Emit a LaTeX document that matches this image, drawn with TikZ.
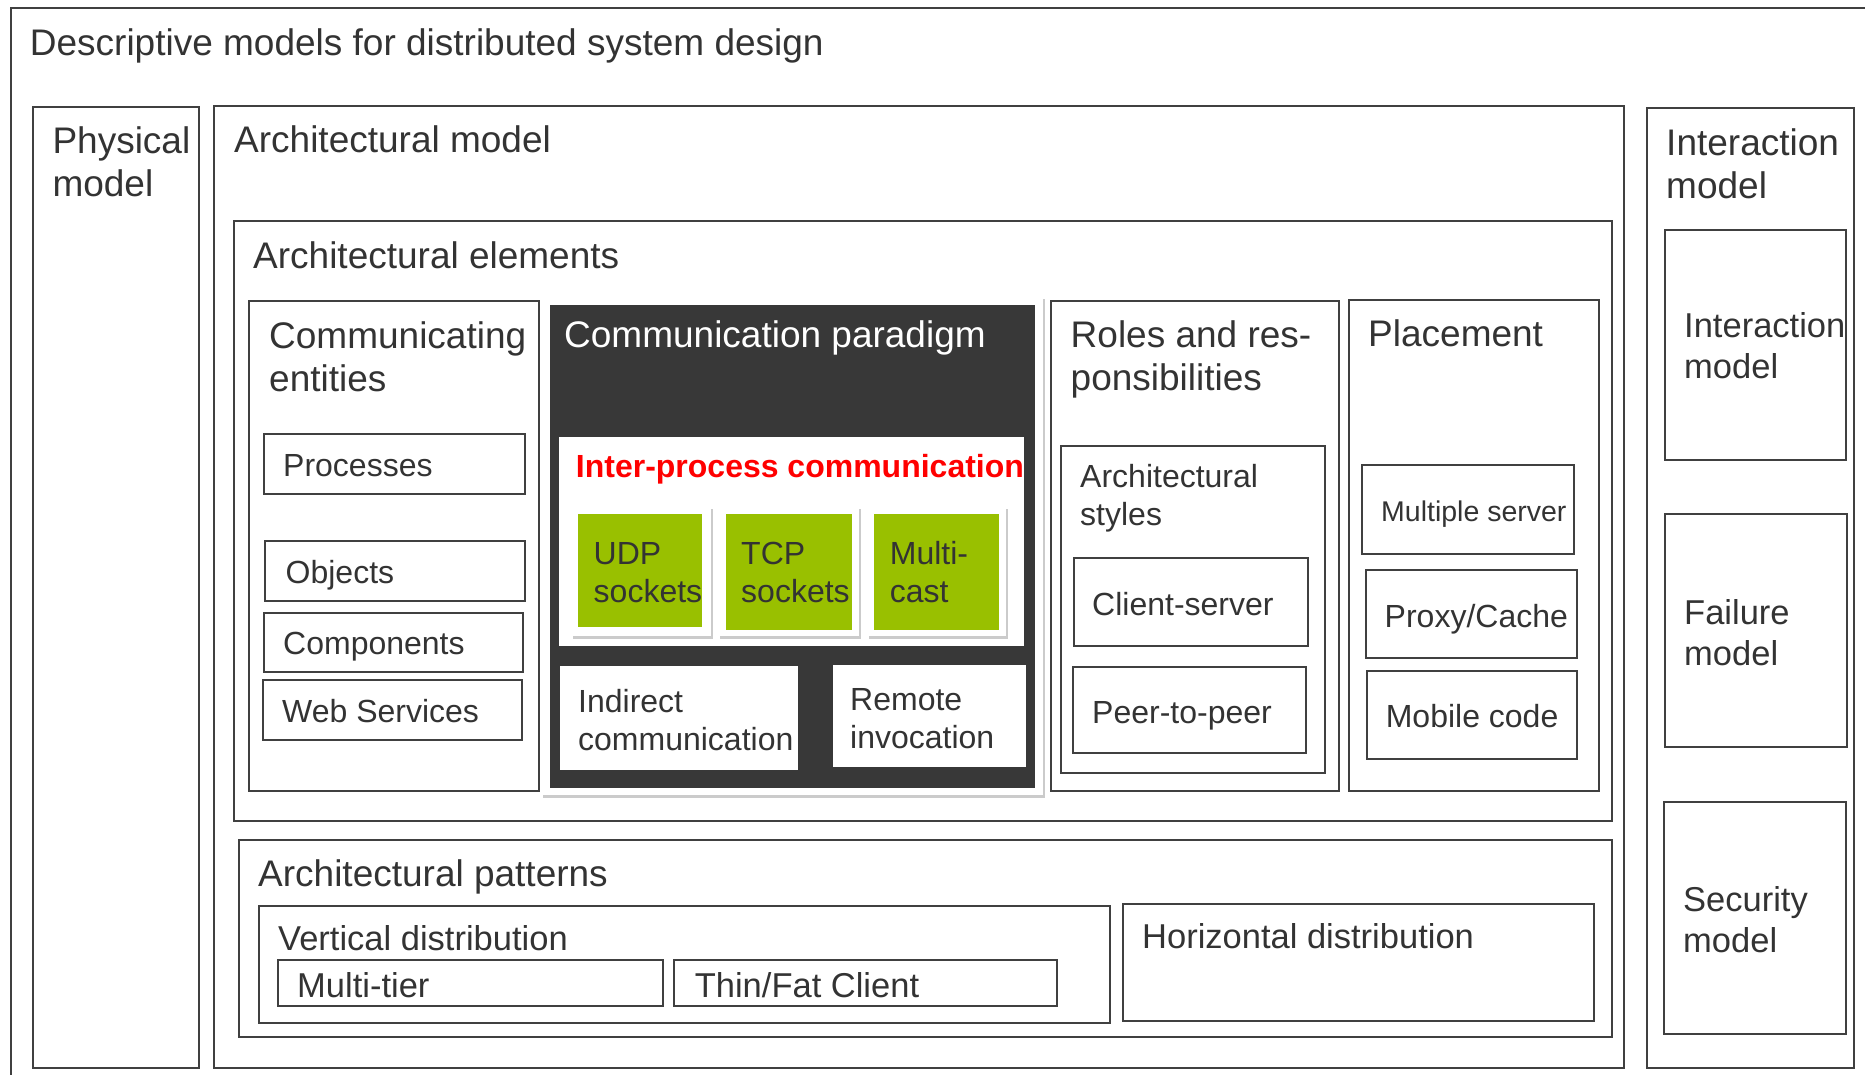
\documentclass[tikz,border=0pt]{standalone}
\usepackage{fontspec}
\setmainfont{Liberation Sans}
\usetikzlibrary{shadows}
\definecolor{linegray}{RGB}{64,64,64}
\definecolor{textgray}{RGB}{51,51,51}
\definecolor{darkbg}{RGB}{56,56,56}
\definecolor{leaf}{RGB}{153,192,0}
\tikzstyle{box}=[draw=linegray,line width=2pt,anchor=north west,inner sep=0pt,outer sep=0pt]
\tikzstyle{card}=[fill=white,anchor=north west,inner sep=0pt,drop shadow={shadow xshift=2pt,shadow yshift=-3pt,fill=black!45,opacity=0.45}]
\tikzstyle{plain}=[fill=white,anchor=north west,inner sep=0pt]
\tikzstyle{green box}=[fill=leaf,anchor=north west,inner sep=0pt]
\tikzstyle{lbl}=[anchor=base west,inner sep=0pt,align=left,text=textgray]
\tikzstyle{head}=[lbl,font=\fontsize{37}{43}\selectfont]
\tikzstyle{item}=[lbl,font=\fontsize{32}{38}\selectfont]
\tikzstyle{side}=[lbl,font=\fontsize{34.5}{40.5}\selectfont]

\begin{document}
\begin{tikzpicture}[x=1pt,y=-1pt]
    \useasboundingbox (0,0) rectangle (1865,1075);
    \clip (0,0) rectangle (1865,1075);
    \node[box,minimum width=1900pt,minimum height=1100pt] (outer) at (10.7,8.3) {};

    % First we draw the frames
    \foreach \pos/\w/\h/\name in {{(33.3,107)/165.3/961/phys}, {(214,106)/1409.5/962/archmodel},
        {(234,221)/1377.6/599.7/archelem}, {(248.6,301)/290.2/490/entities},
        {(264,434)/260.5/59.6/procs}, {(265,541)/259.5/59.6/objs}, {(264,612.5)/259/59.5/comps},
        {(263,680)/259/60/websvc}, {(1051.4,301)/287.6/490/roles}, {(1061,446)/264/327/styles},
        {(1074,558)/234/88/client}, {(1073,667)/233/86/peer}, {(1349,300)/249.6/491/placement},
        {(1362,465)/211.6/89/multiserver}, {(1365.5,570)/211.5/88/proxy}, {(1366.6,671)/210.4/88/mobile},
        {(239,840)/1372.6/197/patterns}, {(259,906)/850.7/117/vertical}, {(278,960)/384.5/46/multitier},
        {(674,960)/383/46/thinfat}, {(1123,904)/471/116.5/horizontal}, {(1647,108)/207/960/interaction},
        {(1665,229.6)/181/230.4/intinner}, {(1665,514)/182/233/failure}, {(1664,801.7)/182/232/security}}
        \node[box,minimum width=\w pt,minimum height=\h pt] (\name) at \pos {};

    % Communication paradigm block
    \node[card,minimum width=502pt,minimum height=498.5pt] (paraframe) at (541,296) {};
    \node[fill=darkbg,anchor=north west,inner sep=0pt,minimum width=485.5pt,minimum height=483pt] (paradigm) at (549.5,304.5) {};
    \node[plain,minimum width=465pt,minimum height=209.5pt] (ipc) at (559,436.5) {};
    \node[plain,minimum width=238pt,minimum height=103.5pt] (indirect) at (560,666) {};
    \node[plain,minimum width=193.4pt,minimum height=102pt] (remote) at (832.6,665) {};
    \foreach \pos/\w/\name in {{(571,505.5)/140/udpcard}, {(718,505.5)/141/tcpcard}, {(867,505.5)/139/mcastcard}}
        \node[card,minimum width=\w pt,minimum height=130.5pt] (\name) at \pos {};
    \foreach \pos/\w/\h/\name in {{(578,514)/123.7/113/udp}, {(725.5,514)/126/116/tcp}, {(874,514)/125/116/mcast}}
        \node[green box,minimum width=\w pt,minimum height=\h pt] (\name) at \pos {};

    % Then the texts (base = last line)
    \foreach \pos/\name/\txt in {{(29.7,56)/titleT/Descriptive models for distributed system design},
        {(52.3,197)/physT/{Physical\\model}}, {(234,153)/archmodelT/Architectural model},
        {(253,269)/archelemT/Architectural elements}, {(269,391)/entitiesT/{Communicating\\entities}},
        {(1070.5,390)/rolesT/{Roles and res-\\ponsibilities}}, {(1368,346)/placementT/Placement},
        {(258,886)/patternsT/Architectural patterns}, {(1666,199)/interactionT/{Interaction\\model}}}
        \node[head] (\name) at \pos {\txt};
    \node[head,text=white] (paradigmT) at (564,347) {Communication paradigm};

    \foreach \pos/\name/\txt in {{(283,476.5)/procsT/Processes}, {(285.5,583.5)/objsT/Objects},
        {(283,654.5)/compsT/Components}, {(282,722.5)/websvcT/Web Services},
        {(593.5,602.5)/udpT/{UDP\\sockets}}, {(741,602.5)/tcpT/{TCP\\sockets}}, {(889.7,602.5)/mcastT/{Multi-\\cast}},
        {(578,750)/indirectT/{Indirect\\communication}}, {(850,748.5)/remoteT/{Remote\\invocation}},
        {(1080,525.5)/stylesT/{Architectural\\styles}}, {(1092,615.5)/clientT/Client-server},
        {(1092,723.5)/peerT/Peer-to-peer}, {(1384.5,627.5)/proxyT/{Proxy/Cache}}, {(1385.6,727.5)/mobileT/Mobile code}}
        \node[item] (\name) at \pos {\txt};
    \node[item,text=red,font=\fontsize{32}{38}\selectfont\bfseries] (ipcT) at (575.7,477.5) {Inter-process communication};
    \node[lbl,font=\fontsize{28.5}{34}\selectfont] (multiserverT) at (1381,521.5) {Multiple server};

    \foreach \pos/\name/\txt in {{(1684,378.4)/intinnerT/{Interaction\\model}}, {(1684,665.4)/failureT/{Failure\\model}},
        {(1683,952)/securityT/{Security\\model}}, {(278,950.4)/verticalT/Vertical distribution},
        {(297,997.4)/multitierT/Multi-tier}, {(694.6,997.4)/thinfatT/{Thin/Fat Client}},
        {(1142,948.4)/horizontalT/Horizontal distribution}}
        \node[side] (\name) at \pos {\txt};
\end{tikzpicture}
\end{document}
